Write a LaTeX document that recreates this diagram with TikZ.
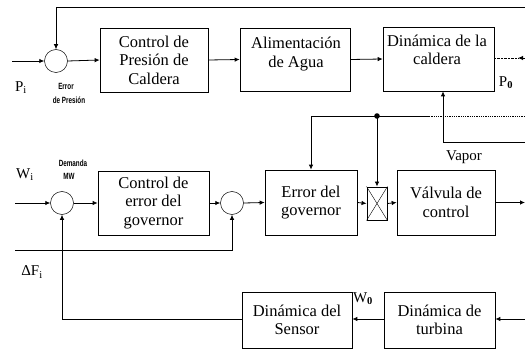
\documentclass[tikz,border=0pt]{standalone}
\usepackage{fontspec}
\setmainfont{Liberation Serif}
\newfontfamily\smallsans[FakeStretch=0.7]{Liberation Sans}
\usetikzlibrary{arrows.meta,calc}
\newcommand{\blkfont}{\fontsize{16.5}{18.5}\selectfont}
\newcommand{\lblfont}{\fontsize{15}{17}\selectfont}
\newcommand{\smlfont}{\smallsans\bfseries\fontsize{9}{10}\selectfont}
\tikzset{
  blk/.style={draw, line width=0.7pt, inner sep=0pt, align=center, font=\blkfont},
  sumc/.style={draw, circle, minimum size=23pt, inner sep=0pt, line width=0.5pt},
  arr/.style={-{Latex[length=5pt,width=4.5pt]}, line width=0.8pt},
  ln/.style={line width=0.8pt},
  lbl/.style={font=\lblfont, inner sep=0pt},
  sml/.style={font=\smlfont, inner sep=0pt},
  txt/.style={font=\blkfont, align=center, inner sep=0pt}
}
\begin{document}
\begin{tikzpicture}[x=1pt,y=-1pt]
\useasboundingbox (0,0) rectangle (525,350);

% --- top row ---
\node[sumc] (c1) at (56,61) {};
\node[blk, minimum width=108pt, minimum height=64pt] (cpc) at (154,60) {Control de\\Presión de\\Caldera};
\node[blk, minimum width=110pt, minimum height=63pt] (ali) at (295,59.5) {};
\node[txt] (aliT) at (296,54) {Alimentación\\de Agua};
\node[blk, minimum width=111pt, minimum height=64pt] (dca) at (438.5,59) {};
\node[txt] (dcaT) at (437,50) {Dinámica de la\\caldera};

% --- middle row ---
\node[sumc] (c2) at (62,203) {};
\node[blk, minimum width=111pt, minimum height=64pt] (ceg) at (153.5,203) {Control de\\error del\\governor};
\node[sumc] (c3) at (232,203) {};
\node[blk, minimum width=92pt, minimum height=65pt] (egv) at (311,202.5) {Error del\\governor};
\node[draw, line width=0.9pt, minimum width=20pt, minimum height=33pt, inner sep=0pt] (xb) at (377,203.5) {};
\draw[line width=0.4pt] (xb.south west) -- (xb.north east) (xb.north west) -- (xb.south east);
\node[blk, minimum width=98pt, minimum height=65pt] (vc) at (446,202.5) {Válvula de\\control};

% --- bottom row ---
\node[blk, minimum width=110pt, minimum height=56pt] (sen) at (297,320) {Dinámica del\\Sensor};
\node[blk, minimum width=111pt, minimum height=56pt] (tur) at (439.5,320) {Dinámica de\\turbina};

% --- labels ---
\node[lbl] (lPi) at (21,88) {P\textsubscript{i}};
\node[sml] (lErr) at (66,86) {Error};
\node[sml] (lPres) at (69,100) {de Presión};
\node[lbl] (lP0) at (506,83) {P\textsubscript{\bfseries 0}};
\node[lbl] (lVap) at (464,157) {Vapor};
\node[lbl] (lWi) at (25,175) {W\textsubscript{i}};
\node[sml] (lDem) at (73,163) {Demanda};
\node[sml] (lMW) at (69,176) {MW};
\node[lbl] (lDF) at (32,272) {ΔF\textsubscript{i}};
\node[lbl] (lW0) at (363,299) {W\textsubscript{\bfseries 0}};

% --- coordinates for free ends ---
\coordinate (pIn) at (12,61);
\coordinate (tfR) at (525,7);
\coordinate (r1) at (525,58);
\coordinate (r1b) at (518,58);
\coordinate (vR) at (525,142);
\coordinate (vC) at (443,142);
\coordinate (gR) at (525,116);
\coordinate (gM) at (430,116);
\coordinate (wIn) at (15,203);
\coordinate (vOut) at (525,202.5);
\coordinate (dfL) at (15,250);
\coordinate (tIn) at (525,319);

% --- top connectors ---
\draw[arr] (pIn) -- (c1.west);
\draw[arr] (c1.east) -- (cpc.west);
\draw[arr] (cpc.east) -- (ali.west);
\draw[arr] (ali.east) -- (dca.west);
\draw[arr] (tfR) -- (c1.north |- tfR) -- (c1.north);
\draw[arr] (r1) -- (r1b);
\draw[densely dotted, line width=0.4pt] (r1b) -- (dca.east |- r1b);
\draw[arr] (vR) -- (vC) -- (vC |- dca.south);

% --- governor signal ---
\draw[ln, densely dotted] (gR) -- (gM);
\draw[arr] (gM) -- (egv.north |- gM) -- (egv.north);
\fill (xb.north |- gM) circle (2.8pt);
\draw[arr] (xb.north |- gM) -- (xb.north);

% --- middle connectors ---
\draw[arr] (wIn) -- (c2.west);
\draw[arr] (c2.east) -- (ceg.west);
\draw[arr] (ceg.east) -- (c3.west);
\draw[arr] (c3.east) -- (egv.west);
\draw[arr] (egv.east) -- (xb.west);
\draw[arr] (xb.east) -- (vc.west);
\draw[arr] (vc.east) -- (vOut);
\draw[arr] (dfL) -- (dfL -| c3.south) -- (c3.south);

% --- bottom connectors ---
\draw[arr] (tIn) -- (tur.east |- tIn);
\draw[arr] (tur.west |- tIn) -- (sen.east |- tIn);
\draw[arr] (sen.west |- tIn) -- (c2.south |- tIn) -- (c2.south);
\end{tikzpicture}
\end{document}
